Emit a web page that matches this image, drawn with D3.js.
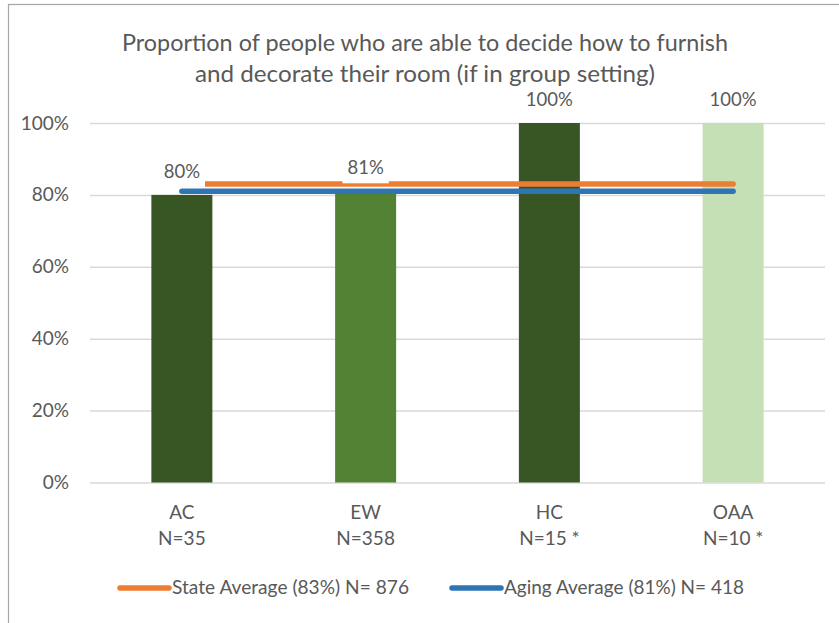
<!DOCTYPE html>
<html>
<head>
<meta charset="utf-8">
<script src="https://cdn.jsdelivr.net/npm/d3@7"></script>
<style>
  html, body { margin: 0; padding: 0; background: #fff; }
  svg { display: block; font-family: Lato, "Open Sans", sans-serif; }
</style>
</head>
<body>
<svg id="chart" width="839" height="623"></svg>
<script>
// ---- data ----
const categories = ["AC", "EW", "HC", "OAA"];
const sampleSizes = ["N=35", "N=358", "N=15 *", "N=10 *"];
const values = [0.80, 0.81, 1.00, 1.00];
const barColors = ["#375623", "#548235", "#375623", "#C5E0B4"];
const stateAverage = [0.83, 0.83, 0.83, 0.83];
const agingAverage = [0.81, 0.81, 0.81, 0.81];
const yTicks = [0, 0.2, 0.4, 0.6, 0.8, 1.0];
const titleLines = ["Proportion of people who are able to decide how to furnish",
                    "and decorate their room (if in group setting)"];
const legendLabels = ["State Average (83%) N= 876", "Aging Average (81%) N= 418"];
const lineColors = ["#ED7D31", "#2E75B6"];

// ---- layout ----
const svg = d3.select("#chart");
const textColor = "#595959";
const plotLeft = 90, plotRight = 825, plotTop = 123, plotBottom = 482.5;

const x = d3.scaleBand().domain(categories).range([plotLeft, plotRight])
  .paddingInner(0.668).paddingOuter(0.334);
const y = d3.scaleLinear().domain([0, 1]).range([plotBottom, plotTop]);

// border (top + left visible)
svg.append("rect").attr("x", 8.5).attr("y", 4.5).attr("width", 900).attr("height", 700)
  .attr("fill", "none").attr("stroke", "#a6a6a6").attr("stroke-width", 1.2);

// y axis + gridlines
const gy = svg.append("g").attr("transform", `translate(${plotLeft},0)`)
  .call(d3.axisLeft(y).tickValues(yTicks).tickFormat(d3.format(".0%"))
    .tickSizeInner(-(plotRight - plotLeft)).tickSizeOuter(0).tickPadding(21));
gy.select(".domain").remove();
gy.selectAll(".tick line").attr("stroke", "#d9d9d9").attr("stroke-width", 1.5);
gy.selectAll(".tick text").attr("fill", textColor).attr("font-size", 19)
  .attr("font-family", "Lato, sans-serif");

// bars
svg.append("g").selectAll("rect").data(values).join("rect")
  .attr("x", (d, i) => x(categories[i]))
  .attr("width", x.bandwidth())
  .attr("y", d => y(d))
  .attr("height", d => y(0) - y(d))
  .attr("fill", (d, i) => barColors[i]);

// x axis labels
const gx = svg.append("g").attr("transform", `translate(0,${plotBottom})`)
  .call(d3.axisBottom(x).tickSize(0).tickFormat(""));
gx.select(".domain").remove();
gx.selectAll(".tick text").each(function(d) {
  const t = d3.select(this).attr("y", 0).attr("dy", 0)
    .attr("fill", textColor).attr("font-size", 19).attr("font-family", "Lato, sans-serif");
  t.append("tspan").attr("x", 0).attr("y", 36.5).text(d);
  t.append("tspan").attr("x", 0).attr("y", 62.5).text(sampleSizes[categories.indexOf(d)]);
});

// average lines
const cx = c => x(c) + x.bandwidth() / 2;
const line = d3.line().x((d, i) => cx(categories[i])).y(d => y(d));
[stateAverage, agingAverage].forEach((series, k) => {
  svg.append("path").datum(series).attr("d", line)
    .attr("fill", "none").attr("stroke", lineColors[k])
    .attr("stroke-width", 5.5).attr("stroke-linecap", "round");
});

// data labels with white background
const labels = svg.append("g");
values.forEach((v, i) => {
  const g = labels.append("g");
  const bx = cx(categories[i]), by = y(v) - 17;
  const rect = g.append("rect").attr("fill", "#fff");
  const t = g.append("text").attr("x", bx).attr("y", by).attr("text-anchor", "middle")
    .attr("fill", textColor).attr("font-size", 18.5).text(d3.format(".0%")(v));
  const w = t.node().getComputedTextLength();
  rect.attr("x", bx - w / 2 - 5).attr("y", by - 15).attr("width", w + 10).attr("height", 24);
});

// title
svg.append("g").selectAll("text").data(titleLines).join("text")
  .attr("x", 425).attr("y", (d, i) => 51 + i * 31)
  .attr("text-anchor", "middle").attr("fill", textColor).attr("font-size", 24)
  .attr("textLength", (d, i) => [606, 460][i]).attr("lengthAdjust", "spacingAndGlyphs")
  .text(d => d);

// legend
const legendX = [120, 452];
const legendW = [237, 240];
legendLabels.forEach((lab, k) => {
  svg.append("line").attr("x1", legendX[k]).attr("x2", legendX[k] + 49)
    .attr("y1", 588).attr("y2", 588).attr("stroke", lineColors[k])
    .attr("stroke-width", 5.5).attr("stroke-linecap", "round");
  svg.append("text").attr("x", legendX[k] + 52).attr("y", 594)
    .attr("fill", textColor).attr("font-size", 19)
    .attr("textLength", legendW[k]).attr("lengthAdjust", "spacingAndGlyphs").text(lab);
});
</script>
</body>
</html>
